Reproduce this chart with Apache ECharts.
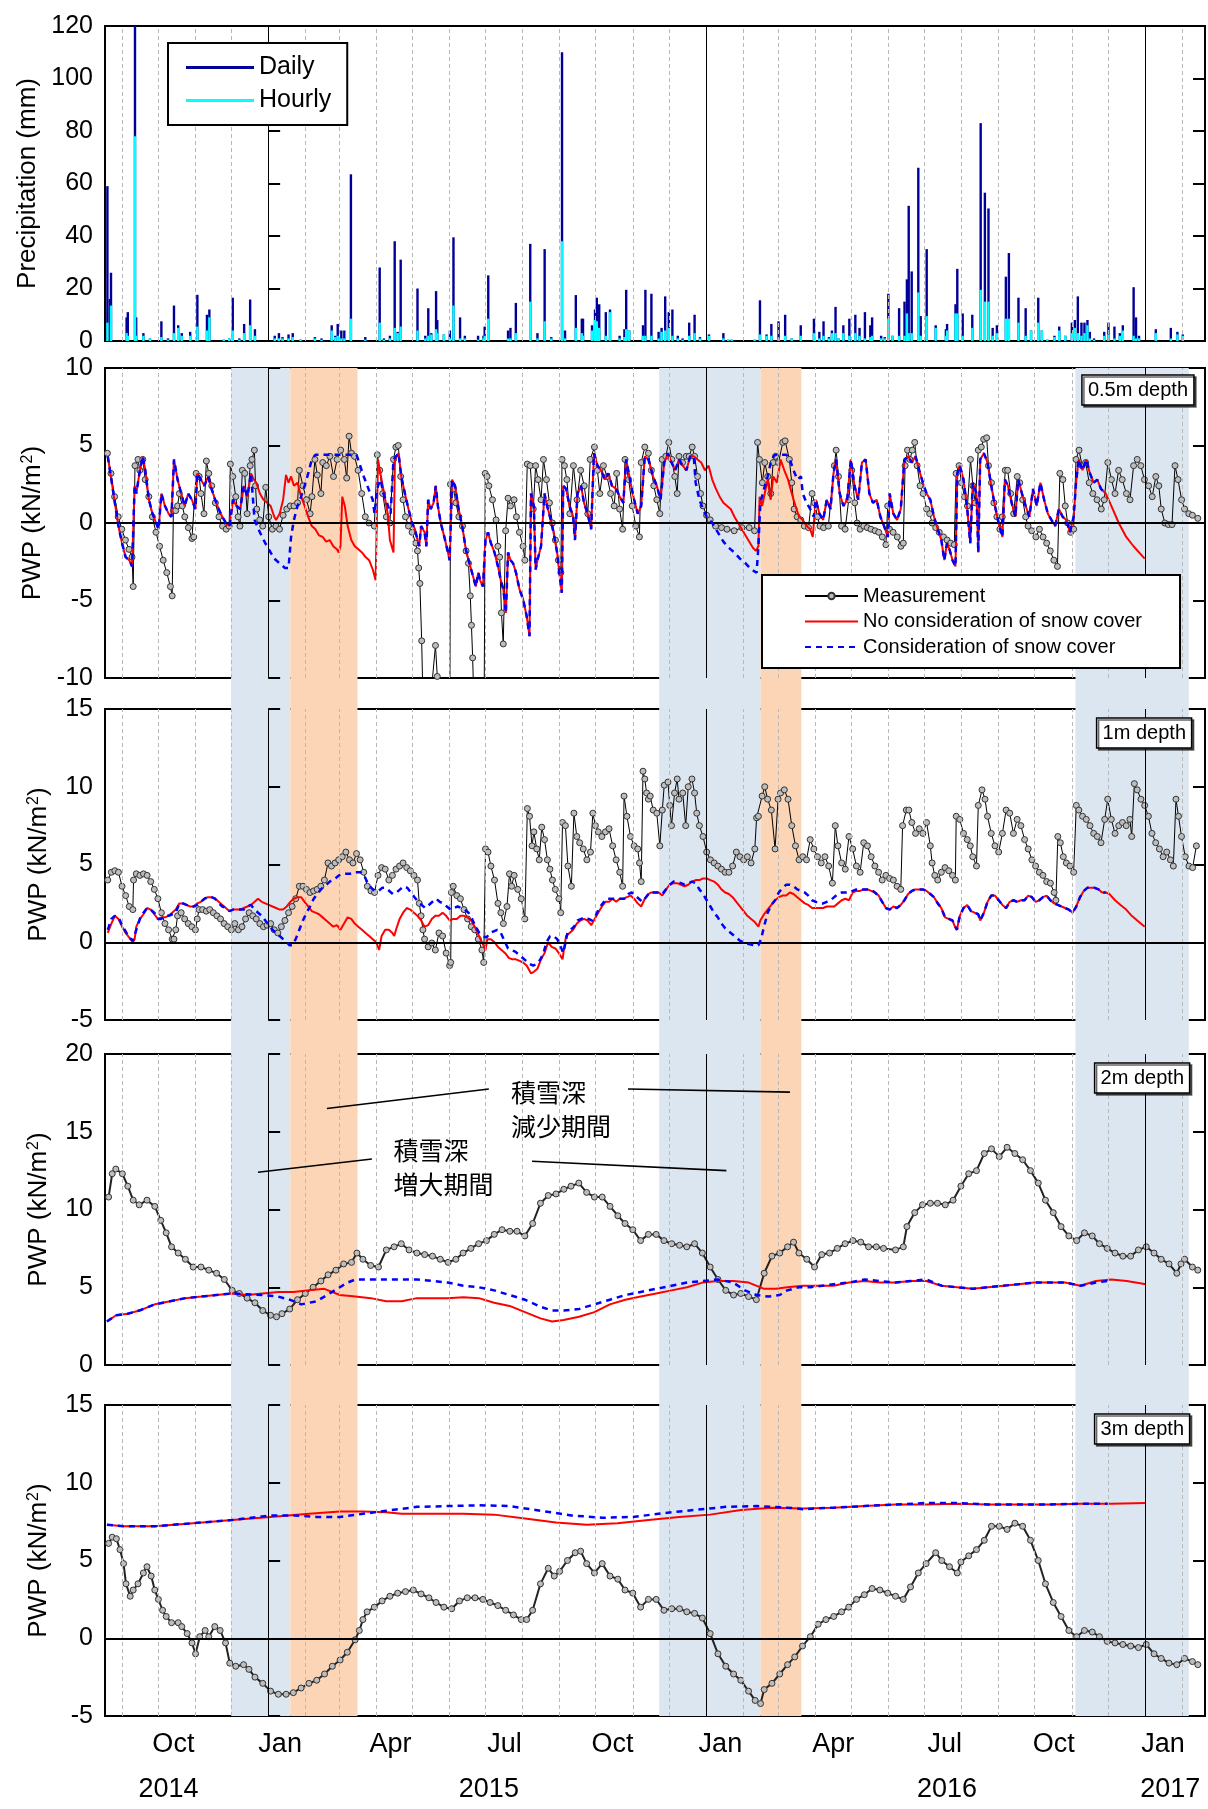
<!DOCTYPE html>
<html><head><meta charset="utf-8">
<script src="https://cdn.jsdelivr.net/npm/echarts@6/dist/echarts.min.js"></script>
<style>html,body{margin:0;padding:0;background:#fff}#c{width:1208px;height:1809px}</style>
</head><body><div id="c"></div>
<script>
// ---------- time axis (days from 2015-01-01) ----------
const monthStarts = [-122,-92,-61,-31,0,31,59,90,120,151,181,212,243,273,304,334,365,396,425,456,486,517,547,578,609,639,670,700,731,762];
const yearStarts = [0,365,731];
const monthLabelDays = [-79,10,102,197,287,377,471,564,655,746];
const monthLabels = ['Oct','Jan','Apr','Jul','Oct','Jan','Apr','Jul','Oct','Jan'];
const yearLabelDays = [-83,184,566,752];
const yearLabels = ['2014','2015','2016','2017'];
const blueBands = [[-31,18.5],[326,410.5],[673,767.5]];
const orangeBands = [[18.5,74.5],[410.5,444.5]];
const depthLabels = ['0.5m depth','1m depth','2m depth','3m depth'];

// ---------- precipitation (day, daily mm, hourly max mm) ----------
const precipDays = [-134,-132,-131,-118,-117,-111,-110,-104,-98.5,-89,-83.5,-78.5,-75,-72,-65,-59,-51,-49,-37,-32.5,-29.5,-24,-20,-15,-11,5.5,9,12,17,20.5,27,39,44.5,53,56,58,61,63.5,69,81,93,96.5,101.5,105.5,108,110.5,124.5,131,133.5,136,140,141,146.5,151.5,154.5,160,164,175,179.5,180.5,183.5,200,202,206.5,218.5,224.5,230.5,236,245,247.5,256.5,261.5,262.5,270,272.5,274,276,281.5,285,293,297,298.5,301,312.5,314.5,319.5,325.5,328,331,334,337,341.5,345.5,351,355.5,360,367.5,379.5,383.5,386.5,405.5,410,415.5,419.5,425.5,431,436.5,444,455,459.5,463,467.5,470,473,475.5,479.5,484.5,489.5,493,497.5,502,503.5,511,514,517,520.5,526,530.5,532.5,534,536.5,542,544,549,556.5,565,566,573,574.5,579,587,594,597.5,600.5,604,607.5,615,617.5,625.5,631.5,636,642,645,649.5,655.5,659.5,664.5,670,672.5,675,678,680.5,683,685,688.5,697,700.5,705.5,710,712.5,721.5,723.5,726,740,752.5,758,762.5];
const precipDaily = [59,16,26,9,11,120,9,3,1,7.5,1,13.5,6,3,3.5,17.6,10,12,0.5,1,16.5,1,6.5,15.8,4.5,2,3,1.5,2.5,3,0.5,1.5,1,6,2,6.5,4,4,63.5,1.5,28,1,2,38,3.5,31,20,2,12.5,3,19,8,2.5,4,39.5,9,2,2,2,5.5,25,4,5,14.5,37,3,35,1.5,110,4,17.5,8.5,8.5,6,12,16.5,14,11,12,2,4.5,19.5,4,6,19.5,18,3.5,5,17,11,12,2,1,7,10,1.5,2.5,3,0.5,0.5,0.5,15.5,2.5,6.5,7.5,10,1,6,8.5,3.5,7.5,1.5,4,13,1,6,8.5,10,5,11,6,9,2,1.5,18,2,12.5,15,23.5,51.5,26.5,66,9.5,35,6,4.5,6.5,14,27.5,10.5,10,83,56.5,50.5,5,6,24.5,33.5,16.5,12.5,4,16.5,4,0.5,2,5.5,2,7,8,17,7,7,8,3.5,1,3.5,7,5.5,3,6,20.5,9,2,4.5,5,3.5,2.5];
const precipHourly = [7,0,13.5,3,2,78,2,2,1,1.5,0.5,3,5,2,2,5.5,4,9,0.5,1,4,0.5,3,6,2,1,1,1,1,1.5,0.5,1,0.5,4,1.5,2,1,1,8.5,0.5,7,0.5,1,5,3,5.5,4,1,2,2.5,4.5,3,2.5,1,13.5,1,1,0.5,1,2,8.5,1,1,3,15,1,7.5,1,38,1,5,3,2,4,8,7.5,5,2,11,1,1.5,4.5,4,2,2,2,1,3.5,4,5,2,1,0.5,2,3,1,2,1,0.5,0.5,0.5,2.5,2,2,1,2,1,2,3,1,2,1,3,3,1,3,2,3,2,1,1.5,2,1,1,8.5,2,2,2,10.5,3,3,18.5,2,9.5,5,2,4,10.5,10.5,2,5,19.5,15,15,2,3,8.5,8.5,7,2,4,7,4,0.5,1.5,4,2,3,5,3,2,3,6,1,0.5,2,2.5,1,2,4,2,1,1,3,1,2.5,2];

// ---------- 0.5 m depth ----------
const meas05 = [[-134,4.5],[-131,3.2],[-128,1.7],[-125,0.4],[-122,-0.4],[-119,-1.1],[-116,-1.7],[-113.5,-2.2],[-112.5,-4.1],[-111,3.7],[-108.5,4.1],[-107,3.4],[-104.5,4.1],[-102.5,2.8],[-99.5,1.7],[-96.5,0.4],[-93.5,-0.6],[-90.5,-1.5],[-87.5,-2.4],[-84.5,-3.2],[-81.5,-4.1],[-80,-4.7],[-79,0.8],[-77,0.8],[-75.5,1.1],[-74,1.9],[-71.5,1.1],[-69.5,0.4],[-66.5,-0.3],[-63.5,-1.0],[-62,-0.9],[-60,3.2],[-57.5,3.0],[-56,1.9],[-53.5,0.6],[-51.5,4.0],[-49.5,3.2],[-47,2.4],[-44,1.3],[-41,0.4],[-38,-0.2],[-35,-0.4],[-32.5,-0.2],[-31.5,3.8],[-29.5,3.0],[-27,1.7],[-25,0.4],[-23.5,-0.2],[-21.5,3.4],[-19.5,3.2],[-17.5,0.6],[-15,3.7],[-13.5,4.1],[-11.5,4.7],[-10.5,2.4],[-9.5,0.9],[-7,0.2],[-4.5,-0.2],[-2,2.3],[0.5,0.4],[3.5,-0.4],[6.5,-0.2],[9.5,-0.4],[12.5,0.5],[15.5,0.9],[18.5,1.1],[21.5,1.1],[24.5,1.3],[26,3.4],[29,2.4],[32,1.5],[35,0.6],[36.5,1.7],[39,4.1],[41,3.1],[44,1.9],[45.5,3.9],[48.5,3.7],[51.5,4.3],[54.5,3.0],[57.5,4.1],[60.5,4.7],[63.5,4.1],[65.5,2.9],[67.5,5.6],[69.5,4.5],[72,4.3],[75,3.4],[78,1.9],[81,0.4],[84,0],[88.5,-0.2],[91,4.4],[93,3.4],[95.5,1.9],[98.5,0.4],[101.5,0],[104.5,4.1],[106.5,4.9],[108.5,5.0],[110.5,3.0],[112.5,1.5],[114.5,0.4],[117,-0.2],[120,-0.6],[123,-1.3],[124.5,-1.8],[125.5,-2.9],[126.5,-3.9],[128,-7.6],[129.5,-13],[133.5,-13],[139.5,-7.9],[141,-9.9],[142.5,-13],[150,-13],[151.5,-12],[152,2.5],[154.5,2.2],[156.5,1.3],[159,0.4],[162,-0.2],[165,-1.8],[167,-2.6],[168.5,-4.7],[169.5,-6.6],[170.5,-8.7],[172,-13],[180,-13],[181,3.2],[182.5,3.0],[184,2.4],[187,1.5],[190,0.2],[191.5,-1.5],[193,-2.2],[194.5,-5.8],[196,-7.8],[198,-0.5],[200,1.6],[202,1.1],[205,1.5],[207,0.4],[209.5,-0.6],[212.5,-1.5],[214,-2.4],[216,3.8],[218.5,3.7],[221,0.9],[223,3.7],[225,2.8],[227.5,1.5],[229.5,4.1],[232,2.8],[234.5,1.3],[237,0],[239.5,-1.1],[242,-2.4],[244,-3.2],[245,4.1],[247,3.7],[249,2.8],[251.5,0.6],[254.5,3.7],[257.5,1.5],[260.5,3.4],[263.5,2.4],[266.5,0.6],[268.5,4.1],[272,4.9],[274.5,3.4],[276.5,1.9],[279.5,3.7],[282.5,3.0],[285.5,1.9],[288.5,1.1],[290.5,3.2],[293,0.9],[295.5,-0.4],[297.5,4.1],[300.5,2.8],[303.5,1.1],[306.5,-0.2],[309.5,-0.9],[311,3.9],[314,4.9],[317,4.5],[319.5,3.4],[321.5,2.4],[324,1.5],[326.5,0.6],[328.5,4.1],[331.5,4.3],[334,5.2],[336.5,4.1],[339,3.0],[341,1.9],[342.5,4.3],[345.5,3.9],[348.5,4.3],[351,4.3],[353.5,4.9],[355.5,4.3],[358,3.0],[360.5,1.9],[362.5,1.1],[365.5,0.5],[368.5,0.2],[373,-0.2],[378,-0.3],[382.5,-0.4],[388.5,-0.5],[395,-0.3],[401,-0.3],[405.5,-0.5],[408,5.2],[409.5,4.1],[412,2.6],[414,3.9],[416.5,3.0],[419,1.9],[421,3.9],[423,4.3],[425.5,3.9],[429,5.2],[431,5.3],[434.5,4.1],[436.5,2.6],[438.5,0.9],[441,0.4],[444,0.2],[447,-0.2],[450.5,-0.3],[453.5,1.9],[455.5,1.3],[458,0.4],[460,-0.2],[463,-0.3],[467,-0.2],[472,3.7],[473.5,4.7],[475.5,3.0],[478,-0.2],[481,-0.4],[484,1.5],[486.5,3.4],[489,1.3],[491,0],[493.5,-0.4],[496.5,-0.2],[499.5,-0.3],[502.5,-0.4],[506,-0.5],[509,-0.6],[512,-0.9],[515,-1.4],[516.5,1.1],[518,-0.4],[521,-0.6],[524.5,-0.9],[527.5,-1.5],[529.5,-1.3],[531,3.7],[533,4.7],[535,4.1],[537,4.7],[539,5.2],[541,3.7],[543.5,2.4],[546,1.9],[549,0.9],[551.5,0.6],[553.5,0],[556.5,-0.3],[559.5,-0.6],[563,-0.9],[566,-1.1],[569,-1.3],[572,-1.4],[573.5,3.2],[576,3.7],[578,2.6],[580.5,1.7],[583,1.1],[585.5,4.1],[587.5,2.4],[589.5,1.3],[592,4.7],[594.5,4.9],[596.5,5.4],[599,5.5],[600.5,3.7],[603,2.6],[605,1.3],[607.5,0.4],[610,-0.4],[612,0.4],[614.5,3.4],[616.5,3.4],[619,1.9],[621.5,0.6],[624.5,3.0],[626.5,2.6],[629,1.5],[631.5,0.4],[633.5,-0.2],[636.5,-0.5],[640,-0.9],[643,-0.4],[646,-0.9],[649,-1.3],[652,-1.8],[655,-2.4],[658,-2.8],[660,3.2],[662.5,2.8],[664.5,1.1],[666.5,0],[669,-0.6],[671.5,-0.4],[673.5,4.1],[676,4.7],[678.5,3.7],[681.5,3.9],[684.5,2.6],[687.5,1.9],[691,1.5],[694.5,0.9],[697,1.5],[700,3.9],[703,2.8],[706,1.9],[709,3.4],[712,2.8],[715.5,1.9],[718.5,1.5],[721.5,3.7],[724.5,4.1],[727.5,3.7],[730.5,2.8],[734,2.4],[737,1.7],[740,3.0],[742.5,2.4],[744.5,0.9],[747.5,0],[750.5,-0.1],[753.5,-0.1],[756,3.7],[758.5,2.8],[761.5,1.5],[764,0.9],[767.5,0.6],[770.5,0.5],[775,0.3]];
const noSnow05 = [[-133.7,4.3],[-130.7,2.8],[-127.8,1.3],[-124.8,-0.2],[-121.8,-1.3],[-118.8,-2.2],[-115.8,-2.4],[-113.4,-2.8],[-111.3,2.4],[-109.9,1.9],[-106.9,3.4],[-104.5,4.3],[-102.4,3.4],[-99.4,1.5],[-96.4,0.6],[-93.4,0],[-91.3,-0.4],[-89,1.9],[-86,1.1],[-83,0.6],[-80.6,0.4],[-78.5,4.1],[-75.5,2.8],[-72.5,1.9],[-69.6,1.1],[-66.6,1.9],[-63.6,1.5],[-60.6,0.9],[-59.1,3.2],[-56.1,2.8],[-53.1,2.4],[-50.1,3.0],[-47.2,2.2],[-44.2,1.5],[-41.2,0.9],[-38.2,0.4],[-35.2,0],[-32.2,-0.2],[-29.3,1.5],[-26.3,1.1],[-23.3,0.9],[-20.3,2.4],[-17.3,1.7],[-14.3,3.2],[-11.9,2.8],[-9.9,2.6],[-6.9,1.9],[-3.9,1.5],[-0.9,1.3],[2.1,1.1],[5.1,0.4],[6.6,0.2],[9.6,0.6],[12.5,1.5],[14.9,3.1],[17,2.6],[19.1,3.0],[21.5,2.4],[24.5,2.6],[27.5,1.7],[30.4,1.1],[33.4,0.4],[36.4,-0.2],[39.4,-0.4],[42.4,-0.8],[45.4,-0.9],[48.4,-1.2],[51.3,-1.1],[54.3,-1.5],[57.3,-1.7],[58.8,-1.9],[60.3,-1.5],[61.8,1.7],[63.9,1.1],[66.3,-0.2],[69.3,-1.1],[72.2,-1.5],[75.2,-1.7],[78.2,-1.9],[81.2,-2.2],[84.2,-2.4],[87.2,-3.0],[89.6,-3.7],[91.6,4.1],[93.1,3.4],[95.5,2.4],[97.6,1.5],[99.7,0.6],[101.5,-1.1],[104.5,-1.9],[105.7,4.1],[108.7,4.5],[111,3.0],[114,1.9],[117,0.9],[120,0],[122.4,-0.4],[124.5,-1.1],[126,-1.5],[127.5,-0.2],[130.4,-0.6],[131.9,-1.5],[133.4,1.5],[135.5,0.9],[137.9,1.3],[139.7,2.4],[141.5,1.1],[143.9,0],[146.9,-0.9],[149.9,-1.9],[151.3,-2.4],[153.4,2.8],[155.8,2.4],[158.8,0.9],[161.8,-0.2],[164.8,-1.7],[167.8,-2.6],[170.7,-3.4],[173.1,-4.1],[175.2,-3.2],[176.7,-3.7],[179.1,-4.1],[181.2,-1.1],[183.3,-0.6],[185.7,-1.3],[188.7,-1.9],[191.6,-2.8],[194,-3.7],[196.1,-4.3],[198.2,-5.8],[200,-1.9],[202.1,-2.4],[204.2,-2.6],[206.6,-3.2],[209.6,-4.3],[212.5,-4.9],[215.5,-6.0],[217.9,-7.3],[219.1,1.9],[221.5,1.1],[223,-3.0],[224.5,-2.4],[227.5,-1.5],[230.4,1.9],[231.9,1.3],[234.9,0.4],[237.9,-0.6],[240.9,-1.9],[243,-3.4],[244.8,-4.5],[246,2.4],[248.4,2.2],[251.3,1.1],[254.3,0.4],[255.8,-1.1],[257.9,1.9],[260.9,2.4],[263.3,1.3],[266.3,0.6],[269.3,-0.4],[271.6,4.5],[274.6,3.7],[277.6,3.4],[280.6,2.8],[283.6,3.2],[286.6,2.4],[290.1,2.2],[293.1,1.7],[296.1,1.3],[298.5,4.1],[302.1,2.6],[305.1,1.5],[308.1,0.6],[311,1.1],[314,4.3],[317,4.1],[320.9,3.0],[324,2.4],[327.1,1.5],[330.2,3.9],[333.3,4.5],[336.3,3.9],[339.4,3.4],[342.5,4.1],[345.6,3.7],[348.7,3.4],[351.8,4.3],[354.8,4.3],[357.9,4.1],[361,3.9],[364.1,3.4],[367.2,3.7],[370.2,2.8],[373.3,2.2],[376.4,1.7],[379.5,1.3],[382.6,1.1],[385.6,0.9],[388.7,0.4],[391.8,0],[394.9,-0.4],[398,-0.8],[401,-1.2],[404.1,-1.6],[406.6,-1.8],[408.7,-1.5],[409.7,1.7],[411.8,1.1],[414,1.9],[416.4,2.8],[418.9,1.5],[421.1,3.0],[424.1,2.6],[427.2,4.1],[430.3,3.4],[433.4,2.8],[436.5,1.9],[439.6,1.1],[442.6,0.4],[445.7,0.2],[448.8,-0.2],[451.9,-0.4],[454,-0.9],[456.5,1.5],[459.6,0.6],[462.7,0.2],[465.7,1.5],[468.8,0.9],[471.3,3.2],[473.4,4.1],[476.5,1.9],[479.6,1.1],[482.7,1.5],[485.8,4.1],[488.8,2.4],[491.9,1.5],[495,3.9],[498.1,4.1],[501.2,1.9],[504.2,1.3],[507.3,1.5],[510.4,0.4],[513.5,-0.2],[516.6,-0.9],[518.1,1.9],[521.2,0.6],[524.3,0.2],[527.4,0.9],[530.4,4.1],[533.5,4.3],[536.6,3.9],[539.7,4.3],[542.8,3.4],[545.8,2.6],[548.9,1.9],[552,1.5],[555.1,0.4],[558.2,-0.4],[561.2,-1.1],[563.7,-2.4],[565.9,-1.3],[568,-1.7],[570.5,-2.4],[573,-2.8],[574.5,3.2],[576.6,3.7],[579.7,2.8],[582.8,0.9],[585.3,-1.3],[587.4,2.6],[590.5,1.9],[592,-1.9],[593.6,4.1],[596.7,4.5],[599.7,3.9],[602.8,2.4],[605.9,1.1],[609,0],[612.1,-0.9],[614.2,2.8],[616.7,2.4],[619.8,1.3],[622.9,0.4],[625.3,2.8],[628.4,1.9],[631.5,1.1],[634.6,0.4],[637.6,2.2],[640.7,1.1],[643.8,2.6],[646.9,1.5],[650,0.6],[653,0.2],[656.1,-0.2],[659.2,0.9],[662.3,0.4],[665.4,0.2],[668.4,-0.6],[671.5,0.4],[673.7,2.8],[675.8,4.1],[678.9,3.4],[682,4.1],[685.1,3.2],[688.2,2.6],[691.2,2.8],[694.3,2.2],[698.3,1.9],[702.9,1.1],[709.1,0],[715.3,-0.9],[721.4,-1.5],[730.7,-2.3]];
const snow05 = [[-133.7,4.3],[-130.7,2.8],[-127.8,1.3],[-124.8,-0.2],[-121.8,-1.3],[-118.8,-2.2],[-115.8,-2.4],[-113.4,-2.8],[-111.3,2.4],[-109.9,1.9],[-106.9,3.4],[-104.5,4.3],[-102.4,3.4],[-99.4,1.5],[-96.4,0.6],[-93.4,0],[-91.3,-0.4],[-89,1.9],[-86,1.1],[-83,0.6],[-80.6,0.4],[-78.5,4.1],[-75.5,2.8],[-72.5,1.9],[-69.6,1.1],[-66.6,1.9],[-63.6,1.5],[-60.6,0.9],[-59.1,3.2],[-56.1,2.8],[-53.1,2.4],[-50.1,3.0],[-47.2,2.2],[-44.2,1.5],[-41.2,0.9],[-38.2,0.4],[-35.2,0],[-32.2,-0.2],[-29.3,1.5],[-26.3,1.1],[-23.3,0.9],[-20.3,2.4],[-17.3,1.7],[-14.3,3.2],[-11.3,0.2],[-6.9,-0.6],[-2.4,-1.3],[0.6,-1.7],[5.1,-2.3],[9.6,-2.6],[14,-2.9],[17,-2.9],[19.1,-0.9],[21.5,0.2],[24.5,1.1],[27.5,1.7],[30.4,2.4],[33.4,3.2],[36.4,4.1],[39.4,4.4],[73.7,4.4],[76.7,3.7],[79.7,3.0],[82.7,2.4],[85.1,1.9],[87.2,1.5],[88.7,0.6],[90.1,1.7],[91.6,2.4],[93.7,2.8],[96.1,1.9],[99.1,1.3],[102.1,0.6],[104.5,4.1],[105.7,4.1],[108.7,4.5],[111,3.0],[114,1.9],[117,0.9],[120,0],[122.4,-0.4],[124.5,-1.1],[126,-1.5],[127.5,-0.2],[130.4,-0.6],[131.9,-1.5],[133.4,1.5],[135.5,0.9],[137.9,1.3],[139.7,2.4],[141.5,1.1],[143.9,0],[146.9,-0.9],[149.9,-1.9],[151.3,-2.4],[153.4,2.8],[155.8,2.4],[158.8,0.9],[161.8,-0.2],[164.8,-1.7],[167.8,-2.6],[170.7,-3.4],[173.1,-4.1],[175.2,-3.2],[176.7,-3.7],[179.1,-4.1],[181.2,-1.1],[183.3,-0.6],[185.7,-1.3],[188.7,-1.9],[191.6,-2.8],[194,-3.7],[196.1,-4.3],[198.2,-5.8],[200,-1.9],[202.1,-2.4],[204.2,-2.6],[206.6,-3.2],[209.6,-4.3],[212.5,-4.9],[215.5,-6.0],[217.9,-7.3],[219.1,1.9],[221.5,1.1],[223,-3.0],[224.5,-2.4],[227.5,-1.5],[230.4,1.9],[231.9,1.3],[234.9,0.4],[237.9,-0.6],[240.9,-1.9],[243,-3.4],[244.8,-4.5],[246,2.4],[248.4,2.2],[251.3,1.1],[254.3,0.4],[255.8,-1.1],[257.9,1.9],[260.9,2.4],[263.3,1.3],[266.3,0.6],[269.3,-0.4],[271.6,4.5],[274.6,3.7],[277.6,3.4],[280.6,2.8],[283.6,3.2],[286.6,2.4],[290.1,2.2],[293.1,1.7],[296.1,1.3],[298.5,4.1],[302.1,2.6],[305.1,1.5],[308.1,0.6],[311,1.1],[314,4.3],[317,4.1],[320.9,3.0],[324,2.4],[327.1,1.5],[330.2,3.9],[333.3,4.5],[336.3,3.9],[339.4,3.4],[342.5,4.1],[345.6,3.7],[348.7,3.4],[351.8,4.3],[354.8,4.3],[356.4,2.6],[359.5,1.5],[362.5,0.9],[365.6,0.4],[370.2,0],[374.9,-0.6],[379.5,-1.2],[384.1,-1.6],[388.7,-1.9],[393.3,-2.3],[398,-2.6],[402.6,-3.0],[407.2,-3.2],[408.7,-1.5],[410.3,1.3],[413.4,2.2],[416.4,3.0],[419.5,4.1],[422.6,4.4],[431.9,4.4],[434.9,4.1],[438,3.4],[441.1,2.8],[444.2,3.0],[445.7,1.9],[448.8,1.3],[451.9,0.9],[454.9,0.4],[456.5,1.5],[459.6,0.6],[462.7,0.2],[465.7,1.5],[468.8,0.9],[471.3,3.2],[473.4,4.1],[476.5,1.9],[479.6,1.1],[482.7,1.5],[485.8,4.1],[488.8,2.4],[491.9,1.5],[495,3.9],[498.1,4.1],[501.2,1.9],[504.2,1.3],[507.3,1.5],[510.4,0.4],[513.5,-0.2],[516.6,-0.9],[518.1,1.9],[521.2,0.6],[524.3,0.2],[527.4,0.9],[530.4,4.1],[533.5,4.3],[536.6,3.9],[539.7,4.3],[542.8,3.4],[545.8,2.6],[548.9,1.9],[552,1.5],[555.1,0.4],[558.2,-0.4],[561.2,-1.1],[563.7,-2.4],[565.9,-1.3],[568,-1.7],[570.5,-2.4],[573,-2.8],[574.5,3.2],[576.6,3.7],[579.7,2.8],[582.8,0.9],[585.3,-1.3],[587.4,2.6],[590.5,1.9],[592,-1.9],[593.6,4.1],[596.7,4.5],[599.7,3.9],[602.8,2.4],[605.9,1.1],[609,0],[612.1,-0.9],[614.2,2.8],[616.7,2.4],[619.8,1.3],[622.9,0.4],[625.3,2.8],[628.4,1.9],[631.5,1.1],[634.6,0.4],[637.6,2.2],[640.7,1.1],[643.8,2.6],[646.9,1.5],[650,0.6],[653,0.2],[656.1,-0.2],[659.2,0.9],[662.3,0.4],[665.4,0.2],[668.4,-0.6],[671.5,0.4],[673.7,2.8],[675.8,4.1],[678.9,3.4],[682,4.1],[685.1,3.2],[688.2,2.6],[691.2,2.8],[694.3,2.2],[698.3,1.9]];

// ---------- 1 m depth ----------
const meas1 = [[-133.7,4.0],[-130.7,4.5],[-127.8,4.6],[-124.8,4.5],[-121.8,3.6],[-118.8,3.0],[-115.8,2.3],[-112.8,2.1],[-112.2,4.0],[-109.9,4.4],[-106.9,4.3],[-103.9,4.4],[-100.9,4.3],[-97.9,3.9],[-94.9,3.4],[-91.9,2.8],[-89,1.9],[-86,1.2],[-83,0.8],[-80,0.2],[-78.5,0.2],[-77,0.8],[-75.5,1.7],[-72.5,1.9],[-69.6,1.5],[-66.6,1.2],[-63.6,1.0],[-60.6,0.8],[-59.1,1.5],[-57.6,2.1],[-54.6,2.1],[-51.6,2.0],[-48.7,2.1],[-45.7,1.9],[-42.7,1.7],[-39.7,1.5],[-36.7,1.2],[-33.7,1.0],[-30.7,0.8],[-27.8,1.2],[-24.8,0.8],[-21.8,1.0],[-18.8,1.5],[-15.8,1.9],[-12.8,1.7],[-9.9,1.5],[-6.9,1.2],[-3.9,1.0],[-0.9,1.1],[2.1,1.2],[5.1,0.8],[8.1,0.6],[11,1.0],[14,1.4],[17,1.9],[20,2.3],[23,2.8],[26,3.6],[29,3.6],[31.9,3.4],[34.9,3.2],[37.9,3.3],[40.9,3.4],[43.9,3.6],[46.9,4.0],[49.9,5.1],[52.8,4.9],[55.8,5.1],[58.8,5.3],[61.8,5.5],[64.8,5.8],[67.8,5.3],[70.7,5.1],[73.7,5.7],[76.7,5.3],[79.7,4.5],[82.7,3.6],[85.7,3.3],[88.7,3.2],[91.6,4.3],[94.6,4.8],[97.6,4.7],[100.6,4.0],[103.6,4.3],[106.6,4.7],[109.6,4.9],[112.5,5.1],[115.5,4.8],[118.5,4.6],[121.5,4.3],[124.5,4.0],[126,2.5],[127.5,1.7],[129,0.8],[130.4,0.2],[133.4,-0.3],[136.4,-0.05],[139.4,-0.5],[142.4,0.6],[145.4,0.4],[148.4,-0.7],[151.3,-1.5],[152.2,-1.3],[152.8,3.2],[154.3,3.6],[157.3,3.0],[160.3,2.8],[163.3,2.1],[166.3,1.5],[169.3,1.0],[172.2,0.8],[175.2,0.2],[178.2,-0.5],[179.7,-1.3],[181.2,6.0],[183.3,5.8],[185.7,4.9],[188.7,4.0],[191.6,2.5],[194,1.9],[196.1,1.2],[199.1,2.3],[201.2,4.4],[203,3.6],[205.1,4.3],[208.1,3.4],[211,2.8],[214,1.5],[216.1,8.6],[217.9,8.1],[220,6.2],[221.5,7.1],[223.9,6.0],[226,5.3],[228.1,7.4],[230.4,6.6],[232.8,5.3],[234.9,4.7],[237,4.0],[239.4,3.4],[242.4,2.8],[243.9,1.9],[245.4,7.7],[247.8,7.5],[249.9,4.9],[252.8,3.6],[254.9,8.3],[257.3,6.8],[259.7,6.4],[262.7,6.0],[265.7,5.3],[268.7,5.8],[270.7,8.3],[272.8,7.5],[275.2,7.1],[278.2,6.8],[281.2,7.1],[284.2,7.3],[287.2,6.2],[290.1,5.3],[293.1,4.5],[295.5,3.6],[296.7,9.4],[299.1,8.1],[302.1,6.8],[305.1,6.2],[308.1,6.0],[309.6,5.1],[311,3.9],[312.5,11.0],[314,10.5],[315.5,9.6],[317,9.2],[318.5,9.4],[321,8.5],[324,8.3],[326.5,6.2],[328.6,8.5],[330.2,10.1],[333.3,10.3],[334.8,8.8],[336.3,7.5],[338.8,9.6],[341,10.5],[342.5,9.2],[345.6,9.6],[348.1,7.5],[350.2,10.0],[353.3,10.5],[355.5,9.6],[357.3,8.3],[359.5,7.5],[362.5,6.8],[365.6,5.8],[368.7,5.3],[371.8,5.1],[374.9,4.9],[377.9,4.7],[381,4.5],[384.1,4.5],[387.2,4.9],[390.3,5.8],[393.3,5.5],[396.4,5.3],[399.5,5.5],[402.6,5.1],[405.7,6.0],[407.2,8.0],[408.7,8.1],[411.8,9.4],[414,10.0],[416.4,9.2],[419.5,8.5],[422.6,6.0],[425.1,9.2],[427.2,9.6],[430.3,9.8],[433.4,9.2],[436.5,7.5],[439.6,6.2],[442.6,5.3],[445.7,5.5],[448.8,5.3],[451.9,6.6],[454.9,6.0],[458,5.5],[461.1,5.1],[464.2,5.5],[467.3,4.9],[470.4,3.8],[472.8,7.5],[475,6.2],[478.1,5.1],[481.1,4.7],[484.2,6.8],[487.3,6.0],[490.4,4.9],[493.5,4.5],[496.5,6.4],[499.6,6.2],[502.7,5.5],[505.8,4.9],[508.9,4.5],[511.9,4.0],[515,4.3],[518.1,4.1],[521.2,4.0],[524.3,3.6],[527.4,3.4],[528.9,7.5],[532,8.5],[534.1,8.5],[536.6,7.7],[539.7,7.0],[542.8,7.3],[545.8,7.0],[548.9,7.7],[552,6.2],[553.5,5.1],[555.7,4.3],[558.2,4.0],[561.2,4.5],[564.3,4.8],[567.4,4.6],[570.5,4.3],[572.9,4.0],[573.6,8.1],[576.6,7.9],[579.7,7.0],[582.8,6.6],[585.3,6.2],[587.4,5.5],[590.5,4.9],[592,8.8],[595.1,9.8],[597.6,9.2],[599.7,8.1],[602.8,7.0],[605.9,6.2],[609,5.8],[612.1,7.0],[615.2,8.5],[618.2,8.3],[621.3,7.0],[624.4,7.9],[627.5,7.5],[630.6,6.6],[633.6,6.0],[636.7,5.3],[639.8,4.9],[642.9,4.5],[645.9,4.3],[649,3.9],[652.1,3.8],[655.2,3.2],[656.7,2.7],[658.3,6.8],[660.4,6.4],[662.9,5.5],[665.4,5.1],[668.4,4.9],[671.5,4.5],[673.7,8.8],[675.8,8.5],[678.9,8.1],[682,7.9],[685.1,7.5],[688.2,7.0],[691.2,6.8],[694.3,6.4],[697.4,7.9],[699.9,9.2],[702.9,7.9],[706,7.0],[709.1,7.5],[712.2,7.7],[715.3,7.5],[718.4,7.9],[719.9,6.8],[722.1,10.2],[724.5,9.8],[727.6,9.2],[730.7,8.8],[733.8,8.1],[736.8,7.0],[739.9,6.4],[743,6.0],[746.1,5.5],[749.1,5.8],[752.2,5.3],[754.6,4.9],[756.8,9.2],[758.9,8.1],[761.4,6.8],[764.5,5.5],[767.6,4.9],[770.7,4.8],[773.8,6.2]];
const noSnow1 = [[-133.7,0.6],[-130.7,1.2],[-127.8,1.7],[-124.8,1.5],[-121.8,1.0],[-118.8,0.6],[-115.8,0.3],[-112.8,0],[-111.3,0.2],[-109.9,1.0],[-106.9,1.5],[-103.9,1.8],[-100.9,2.2],[-97.9,2.1],[-94.9,1.8],[-91.9,1.5],[-89,1.6],[-86,1.6],[-83,1.7],[-80,1.9],[-77,2.1],[-74,2.5],[-71,2.5],[-68.1,2.4],[-65.1,2.3],[-62.1,2.3],[-59.1,2.5],[-56.1,2.6],[-53.1,2.8],[-50.1,2.9],[-47.2,2.9],[-44.2,2.8],[-41.2,2.6],[-38.2,2.4],[-35.2,2.2],[-32.2,2.0],[-29.3,2.1],[-26.3,2.1],[-23.3,2.1],[-20.3,2.2],[-17.3,2.3],[-14.3,2.4],[-11.3,2.6],[-8.4,2.8],[-5.4,2.6],[-2.4,2.5],[0.6,2.4],[3.6,2.3],[6.6,2.2],[9.6,2.1],[12.5,2.1],[15.5,2.3],[18.5,2.6],[21.5,2.8],[24.5,2.9],[27.5,2.9],[30.4,2.6],[33.4,2.3],[36.4,2.0],[39.4,1.9],[42.4,1.8],[45.4,1.6],[48.4,1.4],[51.3,1.2],[54.3,1.0],[57.3,1.1],[60.3,0.8],[63.3,1.2],[66.3,1.6],[69.3,1.5],[72.2,1.2],[75.2,1.0],[78.2,0.8],[81.2,0.6],[84.2,0.4],[87.2,0.2],[90.1,0],[92.5,-0.5],[94.6,0.4],[97.6,0.8],[100.6,0.8],[103.6,0.6],[105.1,0.4],[106.6,0.8],[109.6,1.5],[112.5,1.9],[115.5,2.2],[118.5,2.1],[121.5,1.9],[124.5,1.7],[127.5,1.4],[130.4,1.0],[133.4,1.1],[136.4,1.5],[139.4,1.7],[142.4,1.7],[145.4,1.9],[148.4,1.7],[151.3,1.4],[154.3,1.5],[157.3,1.5],[160.3,1.7],[163.3,1.7],[166.3,1.6],[169.3,1.4],[172.2,1.0],[175.2,0.5],[178.2,0],[181.2,-0.5],[182.7,0.2],[185.7,0.2],[188.7,0],[191.6,-0.3],[194.6,-0.5],[197.6,-0.7],[200.6,-1.0],[203.6,-1.1],[206.6,-1.1],[209.6,-1.2],[212.5,-1.3],[215.5,-1.5],[219.1,-2.0],[221.5,-1.9],[224.5,-1.7],[227.5,-1.1],[230.4,-0.7],[233.4,0],[236.4,-0.3],[239.4,-0.4],[242.4,-0.7],[245.4,-1.1],[246.9,-0.3],[248.4,0.4],[251.3,0.6],[254.3,0.8],[257.3,1.2],[260.3,1.4],[263.3,1.5],[266.3,1.4],[269.3,1.1],[272.2,1.5],[275.2,1.9],[278.2,2.3],[281.2,2.6],[284.2,2.6],[287.2,2.8],[290.1,2.6],[293.1,2.8],[296.1,2.8],[299.1,2.9],[302.1,3.0],[305.1,2.8],[308.1,2.5],[311,2.3],[314,2.8],[317,3.1],[319.4,3.2],[322.5,3.2],[325.6,3.2],[328.6,3.0],[331.7,3.4],[334.8,3.7],[337.9,3.8],[341,3.8],[344.1,3.7],[347.1,3.6],[350.2,3.7],[353.3,3.9],[356.4,4.0],[359.5,4.0],[362.5,4.1],[365.6,4.1],[368.7,4.0],[371.8,3.9],[374.9,3.7],[377.9,3.4],[381,3.2],[384.1,3.1],[387.2,2.9],[390.3,2.6],[393.3,2.3],[396.4,2.0],[399.5,1.7],[402.6,1.5],[405.7,1.3],[408.7,1.0],[410.3,1.4],[413.4,1.8],[416.4,2.1],[419.5,2.4],[422.6,2.7],[425.7,2.9],[428.8,3.0],[431.9,3.0],[434.9,3.2],[438,3.1],[441.1,2.9],[444.2,2.7],[447.3,2.5],[450.3,2.4],[453.4,2.2],[456.5,2.2],[459.6,2.2],[462.7,2.2],[465.7,2.3],[468.8,2.3],[471.9,2.3],[475,2.5],[478.1,2.7],[481.1,2.8],[484.2,2.7],[487.3,3.2],[490.4,3.3],[493.5,3.3],[496.5,3.4],[499.6,3.4],[502.7,3.3],[505.8,3.2],[508.9,3.0],[511.9,2.6],[515,2.2],[518.1,2.1],[521.2,2.3],[524.3,2.2],[527.4,2.4],[530.4,2.7],[533.5,3.1],[536.6,3.3],[539.7,3.4],[542.8,3.4],[545.8,3.4],[548.9,3.3],[552,3.1],[555.1,2.9],[558.2,2.5],[561.2,2.2],[564.3,1.6],[567.4,1.5],[570.5,1.4],[572,1.1],[574.2,0.8],[576.6,1.7],[579.7,2.2],[582.8,2.4],[585.9,2.0],[588.9,1.9],[592,1.8],[593.6,1.4],[596.7,1.9],[599.7,2.6],[602.8,3.0],[605.9,3.0],[609,2.7],[612.1,2.4],[615.2,2.2],[618.2,2.6],[621.3,2.7],[624.4,2.6],[627.5,2.7],[630.6,2.7],[633.6,3.0],[636.7,2.9],[639.8,2.6],[642.9,2.7],[645.9,2.9],[649,3.0],[652.1,2.7],[655.2,2.5],[658.3,2.4],[661.4,2.3],[664.4,2.2],[667.5,2.1],[670.6,1.9],[673.7,2.3],[676.8,2.9],[679.9,3.3],[682.9,3.5],[686,3.5],[689.1,3.5],[692.2,3.4],[695.2,3.2],[698.3,3.2],[701.4,3.1],[706,2.7],[710.6,2.4],[715.3,2.1],[719.9,1.7],[724.5,1.4],[730.7,1.0]];
const snow1 = [[-133.7,0.8],[-130.7,1.5],[-127.8,1.7],[-124.8,1.6],[-121.8,1.1],[-118.8,0.7],[-115.8,0.3],[-112.8,0.1],[-109.9,0.8],[-106.9,1.5],[-103.9,1.9],[-100.9,2.2],[-97.9,2.1],[-94.9,1.9],[-91.9,1.5],[-89,1.5],[-86,1.7],[-83,1.7],[-80,1.8],[-77,1.9],[-74,2.5],[-71,2.5],[-68.1,2.4],[-65.1,2.3],[-62.1,2.3],[-59.1,2.4],[-56.1,2.6],[-53.1,2.8],[-50.1,2.9],[-47.2,2.9],[-44.2,2.8],[-41.2,2.5],[-38.2,2.3],[-35.2,2.2],[-32.2,2.0],[-29.3,2.1],[-26.3,2.1],[-23.3,2.1],[-20.3,2.1],[-17.3,2.3],[-14.3,2.4],[-11.3,2.1],[-8.4,1.9],[-5.4,1.7],[-2.4,1.4],[0.6,1.1],[3.6,0.8],[6.6,0.6],[9.6,0.4],[12.5,0.2],[15.5,0],[17.9,-0.2],[20,-0.2],[23,0.2],[26,0.8],[29,1.4],[32,1.9],[35,2.3],[38,2.8],[41,3.1],[44,3.4],[47,3.6],[50,3.8],[53,4.0],[56,4.1],[59,4.3],[62,4.4],[65,4.4],[68,4.4],[71,4.5],[74,4.5],[77,4.5],[80,4.3],[83,3.8],[86,3.5],[89,3.3],[92,3.3],[95,3.5],[98,3.5],[101,3.3],[104,3.1],[107,3.2],[110,3.4],[113,3.6],[116,3.5],[119,3.2],[122,2.9],[125,2.6],[128,2.4],[131,2.2],[134,2.4],[137,2.6],[140,2.8],[143,2.6],[146,2.5],[149,2.3],[152,2.1],[155,2.2],[158,2.3],[161,2.2],[164,2.1],[167,1.9],[170,1.5],[173,1.0],[176,0.6],[179,0.4],[182,0.3],[185,0.6],[188,0.7],[191,0.8],[194,0.6],[197,0.1],[200,-0.4],[203,-0.5],[206,-0.6],[209,-0.8],[212,-1.0],[215,-1.2],[218,-1.4],[221,-1.5],[224,-1.4],[227,-1.1],[229.5,-0.7],[232,0],[235,0.4],[238,0.4],[241,0.2],[244,-0.3],[246,-0.7],[248,0],[249.5,0.6],[252,0.8],[255,1.0],[258,1.4],[261,1.5],[264,1.6],[267,1.5],[270,1.4],[273,1.7],[276,2.2],[279,2.5],[282,2.8],[285,2.8],[288,2.8],[291,2.8],[294,2.8],[297,2.8],[300,3.1],[303,3.2],[306,3.0],[309,2.8],[312,2.6],[315,2.9],[318,3.2],[322.5,3.2],[325.6,3.2],[328.6,3.1],[331.7,3.4],[334.8,3.7],[337.9,3.9],[341,3.9],[344.1,3.8],[347.1,3.7],[350.2,3.8],[353.3,3.9],[356.4,3.8],[359.5,3.4],[362.5,3.1],[365.6,2.7],[368.7,2.3],[371.8,1.9],[374.9,1.6],[377.9,1.2],[381,0.9],[384.1,0.7],[387.2,0.5],[390.3,0.3],[393.3,0.1],[396.4,0],[399.5,-0.1],[402.6,-0.15],[405.7,-0.2],[408.7,-0.2],[410.9,0.2],[413.4,1.0],[416.4,1.9],[419.5,2.4],[422.6,2.7],[425.7,3.2],[428.8,3.5],[431.9,3.7],[434.9,3.7],[438,3.6],[441.1,3.4],[444.2,3.3],[447.3,3.2],[450.3,3.0],[453.4,2.7],[456.5,2.6],[459.6,2.5],[462.7,2.5],[465.7,2.6],[468.8,2.7],[471.9,2.9],[475,3.1],[478.1,3.2],[481.1,3.2],[484.2,3.2],[487.3,3.3],[490.4,3.4],[493.5,3.4],[496.5,3.4],[499.6,3.4],[502.7,3.4],[505.8,3.2],[508.9,3.0],[511.9,2.6],[515,2.2],[518.1,2.1],[521.2,2.3],[524.3,2.2],[527.4,2.4],[530.4,2.7],[533.5,3.1],[536.6,3.3],[539.7,3.4],[542.8,3.4],[545.8,3.4],[548.9,3.3],[552,3.1],[555.1,2.9],[558.2,2.5],[561.2,2.2],[564.3,1.6],[567.4,1.5],[570.5,1.4],[572,1.1],[574.2,0.8],[576.6,1.7],[579.7,2.2],[582.8,2.4],[585.9,2.0],[588.9,1.9],[592,1.8],[593.6,1.4],[596.7,1.9],[599.7,2.6],[602.8,3.0],[605.9,3.0],[609,2.7],[612.1,2.4],[615.2,2.2],[618.2,2.6],[621.3,2.7],[624.4,2.6],[627.5,2.7],[630.6,2.7],[633.6,3.0],[636.7,2.9],[639.8,2.6],[642.9,2.7],[645.9,2.9],[649,3.0],[652.1,2.7],[655.2,2.5],[658.3,2.4],[661.4,2.3],[664.4,2.2],[667.5,2.1],[670.6,1.9],[673.7,2.3],[676.8,2.9],[679.9,3.3],[682.9,3.5],[686,3.5],[689.1,3.5],[692.2,3.4],[695.2,3.2],[698.3,3.2]];

// ---------- 2 m depth ----------
const meas2 = [[-133,10.8],[-130,12.3],[-127,12.6],[-121.5,12.3],[-117,11.5],[-112.5,10.6],[-107.5,10.3],[-101,10.6],[-94.5,10.2],[-89.5,9.3],[-85,8.5],[-80.5,7.6],[-75,7.2],[-69,6.8],[-62.5,6.3],[-56,6.3],[-49.5,6.1],[-43,5.9],[-36.5,5.5],[-30,4.8],[-24,4.6],[-17.5,4.3],[-11,4.0],[-4.5,3.5],[2,3.2],[7,3.1],[11.5,3.3],[18,3.6],[24.5,4.2],[31,4.6],[37.5,5.0],[44,5.4],[50,5.8],[56.5,6.1],[63,6.5],[69.5,6.6],[74,7.2],[79,6.8],[85.5,6.4],[92,6.3],[98.5,7.4],[105,7.6],[111,7.8],[117.5,7.4],[124,7.2],[130.5,7.1],[137,7.0],[143.5,6.8],[150,6.6],[156.5,6.8],[162.5,7.2],[169,7.5],[175.5,7.8],[182,8.0],[188.5,8.4],[195,8.7],[201.5,8.6],[207.5,8.6],[214,8.3],[220.5,9.1],[227,10.4],[233.5,10.9],[240,11.0],[246.5,11.3],[252.5,11.5],[259,11.7],[265.5,11.1],[272,10.8],[278.5,10.8],[285,10.2],[291.5,9.6],[297.5,9.1],[304,8.7],[310.5,8.0],[317,8.4],[323.5,8.4],[330,8.0],[336.5,7.8],[343,7.7],[349,7.6],[355.5,7.8],[362,7.2],[368.5,6.3],[375,5.5],[381.5,4.8],[388,4.5],[394,4.6],[400.5,4.4],[407,4.2],[413.5,5.9],[420,7.0],[426.5,7.2],[433,7.6],[438,7.9],[442.5,7.2],[449,6.8],[455.5,6.3],[461.5,7.1],[468,7.2],[474.5,7.5],[481,7.8],[487.5,8.0],[494,7.9],[500.5,7.6],[507,7.6],[513,7.5],[523,7.4],[529.5,7.6],[532.5,8.9],[539,9.8],[545.5,10.3],[552,10.4],[558,10.4],[564.5,10.3],[571,10.6],[577.5,11.5],[584,12.3],[590.5,12.5],[597,13.6],[603,13.9],[609.5,13.4],[616,14.0],[622.5,13.6],[629,13.2],[635.5,12.5],[642,11.7],[648,10.6],[654.5,9.8],[661,8.9],[667.5,8.3],[674,8.0],[680.5,8.5],[687,8.3],[693,7.8],[699.5,7.5],[706,7.2],[712.5,7.0],[719,7.0],[725.5,7.4],[732,7.6],[738.5,7.2],[744.5,6.8],[751,6.5],[757.5,5.9],[761,6.5],[764,6.8],[770.5,6.3],[775,6.1]];
const noSnow2 = [[-134.4,2.8],[-126.7,3.2],[-117,3.3],[-107.4,3.5],[-94.5,3.9],[-81.7,4.1],[-68.8,4.3],[-55.9,4.4],[-43.1,4.5],[-30.2,4.6],[-17.4,4.5],[-4.5,4.6],[8.4,4.7],[21.2,4.7],[34.1,4.8],[46.9,4.9],[59.8,4.5],[72.7,4.4],[85.5,4.3],[98.4,4.1],[111.3,4.1],[124.1,4.3],[137,4.3],[149.8,4.3],[162.7,4.35],[175.6,4.3],[188.4,4.0],[201.3,3.8],[214.1,3.4],[227,3.0],[236.7,2.8],[246.3,2.9],[259.2,3.1],[272,3.4],[284.9,3.9],[297.7,4.2],[310.6,4.4],[323.5,4.6],[336.3,4.8],[349.2,5.0],[362.1,5.3],[374.9,5.4],[387.8,5.4],[400.6,5.3],[413.5,4.9],[423.2,4.9],[432.8,5.0],[445.7,5.1],[458.5,5.1],[471.4,5.1],[484.2,5.3],[497.1,5.4],[510,5.3],[522.8,5.3],[535.7,5.4],[548.6,5.4],[561.4,5.1],[574.3,5.0],[587.1,4.9],[600,5.0],[612.9,5.1],[625.7,5.2],[638.6,5.3],[651.4,5.3],[664.3,5.3],[677.2,5.1],[690,5.4],[702.9,5.5],[715.8,5.4],[731.8,5.2]];
const snow2 = [[-134.4,2.8],[-126.7,3.2],[-117,3.3],[-107.4,3.5],[-94.5,3.9],[-81.7,4.1],[-68.8,4.3],[-55.9,4.4],[-43.1,4.5],[-30.2,4.6],[-17.4,4.55],[-4.5,4.5],[8.4,4.4],[18,4.2],[27.7,3.9],[34.1,4.0],[40.5,4.1],[46.9,4.4],[53.4,4.7],[59.8,5.0],[66.2,5.3],[72.7,5.5],[85.5,5.5],[98.4,5.5],[111.3,5.5],[124.1,5.5],[137,5.4],[149.8,5.3],[162.7,5.1],[175.6,5.0],[188.4,4.8],[201.3,4.5],[214.1,4.2],[227,3.75],[236.7,3.5],[246.3,3.5],[259.2,3.6],[272,3.9],[284.9,4.2],[297.7,4.5],[310.6,4.7],[323.5,4.9],[336.3,5.1],[349.2,5.3],[362.1,5.4],[374.9,5.5],[387.8,5.3],[397.4,4.8],[407.1,4.5],[416.7,4.4],[426.4,4.5],[432.8,4.8],[442.4,5.0],[452.1,5.0],[471.4,5.2],[484.2,5.3],[497.1,5.5],[510,5.4],[522.8,5.3],[535.7,5.4],[548.6,5.5],[561.4,5.1],[574.3,5.0],[587.1,4.9],[600,5.0],[612.9,5.1],[625.7,5.2],[638.6,5.3],[651.4,5.3],[664.3,5.3],[677.2,5.1],[690,5.3],[699.7,5.4]];

// ---------- 3 m depth ----------
const meas3 = [[-133,6.1],[-130,6.5],[-126.5,6.4],[-123.5,5.7],[-120.5,4.8],[-118.5,3.5],[-115,2.7],[-112.5,3.1],[-108.5,3.5],[-104,4.2],[-101,4.6],[-97.5,4.0],[-94.5,3.1],[-91.5,2.5],[-88,1.8],[-85,1.4],[-80.5,1.0],[-75,1.0],[-72,0.75],[-67.5,0.3],[-63.5,-0.3],[-60.5,-1.0],[-57,0.1],[-52.5,0.5],[-49.5,0.1],[-44.5,0.75],[-40,0.5],[-35.5,-0.3],[-32,-1.6],[-27,-1.8],[-20.5,-1.7],[-16,-2.0],[-11,-2.5],[-4.5,-2.9],[2,-3.4],[8.5,-3.6],[15,-3.6],[21,-3.5],[27.5,-3.2],[34,-2.9],[40.5,-2.7],[47,-2.3],[53.5,-1.8],[60,-1.4],[66,-0.9],[72.5,-0.1],[76,0.5],[79,1.2],[82.5,1.7],[88.5,2.0],[95,2.4],[101.5,2.7],[108,2.9],[114.5,3.0],[121,3.1],[127.5,2.85],[134,2.6],[140,2.3],[146.5,2.0],[153,1.9],[159.5,2.4],[166,2.6],[172.5,2.6],[179,2.5],[185,2.3],[191.5,2.1],[198,1.8],[204.5,1.5],[211,1.2],[215.5,1.2],[220.5,1.8],[227,3.5],[233.5,4.5],[238.5,4.0],[243,4.3],[249.5,5.0],[256,5.5],[260.5,5.6],[265.5,4.8],[272,4.2],[278.5,4.8],[285,4.0],[291.5,3.8],[297.5,3.1],[304,2.9],[310.5,2.0],[317,2.5],[323.5,2.5],[330,1.8],[336.5,1.9],[343,1.9],[349,1.7],[355.5,1.6],[362,1.3],[368.5,0.3],[375,-1.0],[381.5,-1.8],[388,-2.3],[394,-2.7],[400.5,-3.4],[406,-4.0],[410.5,-4.2],[413.5,-3.3],[420,-2.9],[426.5,-2.3],[433,-1.7],[439,-1.2],[445.5,-0.5],[452,0.1],[458.5,0.9],[465,1.2],[471.5,1.4],[478,1.7],[484,2.0],[490.5,2.5],[497,2.8],[503.5,3.2],[510,3.1],[516.5,2.9],[523,2.7],[529.5,2.5],[535.5,3.3],[542,4.2],[548.5,4.8],[556.5,5.5],[561.5,5.0],[568,4.6],[574.5,4.2],[577.5,4.9],[584,5.3],[590.5,5.7],[597,6.3],[603,7.2],[609.5,7.2],[616,7.0],[622.5,7.4],[629,7.2],[635.5,6.3],[642,5.0],[648,3.5],[654.5,2.3],[661,1.4],[667.5,0.5],[674,0.1],[680.5,0.5],[687,0.4],[693,0.1],[699.5,-0.2],[706,-0.3],[712.5,-0.4],[719,-0.5],[725.5,-0.6],[732,-0.4],[738.5,-1.0],[744.5,-1.3],[751,-1.6],[757.5,-1.7],[764,-1.3],[770.5,-1.5],[775,-1.7]];
const noSnow3 = [[-134.4,7.3],[-120.3,7.2],[-94.5,7.2],[-62.4,7.4],[-30.2,7.6],[1.9,7.8],[34.1,8.0],[59.8,8.15],[79.1,8.15],[98.4,8.1],[111.3,8.0],[137,8.0],[162.7,8.0],[188.4,7.95],[214.1,7.7],[239.9,7.45],[265.6,7.3],[291.3,7.4],[317,7.6],[342.8,7.8],[368.5,7.95],[394.2,8.25],[419.9,8.4],[445.7,8.35],[471.4,8.4],[497.1,8.5],[522.8,8.6],[548.6,8.6],[574.3,8.65],[600,8.6],[625.7,8.6],[651.4,8.6],[677.2,8.65],[702.9,8.65],[731.8,8.7]];
const snow3 = [[-134.4,7.3],[-120.3,7.2],[-94.5,7.2],[-62.4,7.4],[-30.2,7.6],[1.9,7.9],[21.2,7.9],[40.5,7.8],[59.8,7.8],[79.1,8.0],[98.4,8.2],[124.1,8.45],[149.8,8.5],[175.6,8.55],[201.3,8.5],[227,8.2],[252.7,7.9],[278.5,7.75],[304.2,7.8],[329.9,8.05],[355.6,8.25],[381.4,8.45],[407.1,8.5],[432.8,8.4],[445.7,8.3],[471.4,8.4],[497.1,8.5],[522.8,8.6],[548.6,8.7],[574.3,8.7],[600,8.6],[625.7,8.6],[651.4,8.6],[677.2,8.65],[699.7,8.65]];

// ---------- annotations (2 m panel, data coordinates) ----------
const noteTexts = ['積雪深\n減少期間','積雪深\n増大期間'];
const notePoints = [[202,16.4],[104,12.67]];
const leaderLines = [[[49,16.5],[184,17.75]],[[300,17.75],[435,17.55]],[[-8.5,12.4],[86.5,13.25]],[[220,13.1],[382,12.5]]];

// ================= chart =================
const FONT = '"Liberation Sans", Arial, Helvetica, sans-serif';
const CJK = '"Noto Sans CJK JP", "Noto Sans CJK SC", sans-serif';
const X_MIN = -136, X_MAX = 781;
const BLUE_BAND = '#dce6f1', ORANGE_BAND = '#fbd5b5';
const PWP = 'PWP (kN/m{sup|2})';
const layout = [
  {top:26, height:315, min:0, max:120, interval:20, name:'Precipitation (mm)', gap:64, zero:false},
  {top:368, height:310, min:-10, max:10, interval:5, name:PWP, gap:53, zero:true},
  {top:709, height:311, min:-5, max:15, interval:5, name:PWP, gap:53, zero:true},
  {top:1054, height:311, min:0, max:20, interval:5, name:PWP, gap:53, zero:false},
  {top:1405, height:311, min:-5, max:15, interval:5, name:PWP, gap:53, zero:true}
];

const grids = layout.map(p => ({left:105, width:1100, top:p.top, height:p.height, show:true, borderColor:'#000', borderWidth:2, backgroundColor:'transparent', z:1}));
grids.push({left:105, width:1100, top:368, height:1348, show:false});

const noAxisBits = {axisLine:{show:false}, axisTick:{show:false}, splitLine:{show:false}};
const xAxes = [];
for (let i = 0; i < 6; i++) {
  const ax = Object.assign({type:'value', gridIndex:i, min:X_MIN, max:X_MAX}, noAxisBits);
  if (i === 4) {
    ax.axisLabel = {show:true, customValues:monthLabelDays, formatter:v => { const k = monthLabelDays.indexOf(v); return k >= 0 ? monthLabels[k] : ''; }, fontSize:27, color:'#000', fontFamily:FONT, margin:15};
  } else if (i === 5) {
    ax.axisLabel = {show:true, customValues:yearLabelDays, formatter:v => { const k = yearLabelDays.indexOf(v); return k >= 0 ? yearLabels[k] : ''; }, fontSize:27, color:'#000', fontFamily:FONT, margin:60};
  } else {
    ax.axisLabel = {show:false};
  }
  xAxes.push(ax);
}

const yAxes = [];
layout.forEach((p, i) => {
  const common = {type:'value', gridIndex:i, min:p.min, max:p.max, interval:p.interval, z:3,
    axisLine:{show:false}, splitLine:{show:false},
    axisTick:{show:true, inside:true, length:12, lineStyle:{color:'#000', width:2}}};
  yAxes.push(Object.assign({}, common, {position:'left',
    axisLabel:{fontSize:25, color:'#000', fontFamily:FONT, margin:12},
    name:p.name, nameLocation:'middle', nameGap:p.gap, nameRotate:90,
    nameTextStyle:{fontSize:26, color:'#000', fontFamily:FONT,
      rich:{sup:{fontSize:16, color:'#000', fontFamily:FONT, verticalAlign:'top', padding:[0,0,0,1]}}}}));
  yAxes.push(Object.assign({}, common, {position:'right', axisLabel:{show:false}}));
});
yAxes.push({type:'value', gridIndex:5, min:0, max:1, show:false});

const series = [];
// shaded periods across panels 2-5
series.push({type:'line', xAxisIndex:5, yAxisIndex:10, data:[[X_MIN - 50, 0.5]], symbol:'none', lineStyle:{opacity:0}, silent:true, z:0,
  markArea:{silent:true, animation:false, data:[
    ...blueBands.map(b => [{xAxis:b[0], itemStyle:{color:BLUE_BAND}}, {xAxis:b[1]}]),
    ...orangeBands.map(b => [{xAxis:b[0], itemStyle:{color:ORANGE_BAND}}, {xAxis:b[1]}])
  ]}});
// month grid lines
layout.forEach((p, i) => {
  const data = monthStarts.map(d => yearStarts.indexOf(d) >= 0
    ? {xAxis:d, lineStyle:{color:'#000', width:1, type:'solid'}}
    : {xAxis:d, lineStyle:{color:'#b8b8b8', width:1, type:[4,3]}});
  if (p.zero) data.push({yAxis:0, lineStyle:{color:'#000', width:2.2, type:'solid'}});
  series.push({type:'line', xAxisIndex:i, yAxisIndex:2*i, data:[[X_MIN - 50, p.min]], symbol:'none', lineStyle:{opacity:0}, silent:true, z:2,
    markLine:{silent:true, symbol:['none','none'], label:{show:false}, animation:false, data}});
});
// precipitation
series.push({name:'Daily', type:'bar', xAxisIndex:0, yAxisIndex:0, barWidth:2.4, z:3,
  itemStyle:{color:'#000099'}, data:precipDays.map((d, k) => [d, precipDaily[k]])});
series.push({name:'Hourly', type:'bar', xAxisIndex:0, yAxisIndex:0, barWidth:2.4, barGap:'-100%', z:4,
  itemStyle:{color:'#00ffff'}, data:precipDays.map((d, k) => [d, precipHourly[k]])});
// PWP panels
const pwp = [[meas05, noSnow05, snow05], [meas1, noSnow1, snow1], [meas2, noSnow2, snow2], [meas3, noSnow3, snow3]];
pwp.forEach((set, j) => {
  const i = j + 1;
  const heavy = i >= 3;
  series.push({name:'Measurement', type:'line', xAxisIndex:i, yAxisIndex:2*i, data:set[0], symbol:'circle', symbolSize:6, showSymbol:true, z:3,
    itemStyle:{color:'#bdbdbd', borderColor:'#333', borderWidth:1}, lineStyle:{color: heavy ? '#222' : '#000', width: heavy ? 2 : 1}});
  series.push({name:'No consideration of snow cover', type:'line', xAxisIndex:i, yAxisIndex:2*i, data:set[1], symbol:'none', z:4,
    itemStyle:{color:'#ff0000'}, lineStyle:{color:'#ff0000', width:2}});
  series.push({name:'Consideration of snow cover', type:'line', xAxisIndex:i, yAxisIndex:2*i, data:set[2], symbol:'none', z:5,
    itemStyle:{color:'#0000ff'}, lineStyle:{color:'#0000ff', width:2.5, type:[6,5]}});
});
// annotation leader lines and text in the 2 m panel
series.push({type:'line', xAxisIndex:3, yAxisIndex:6, data:[[X_MIN - 50, 0]], symbol:'none', lineStyle:{opacity:0}, silent:true, z:6,
  markLine:{silent:true, symbol:['none','none'], label:{show:false}, animation:false, lineStyle:{color:'#000', width:1.6, type:'solid'},
    data:leaderLines.map(l => [{coord:l[0]}, {coord:l[1]}])}});
series.push({type:'scatter', xAxisIndex:3, yAxisIndex:6, silent:true, z:6, symbolSize:1, itemStyle:{color:'transparent'},
  data:notePoints.map((pt, k) => ({value:pt, name:noteTexts[k]})),
  label:{show:true, position:'right', distance:0, formatter:p => p.name, fontSize:25, lineHeight:34, color:'#000', opacity:1, fontFamily:CJK, align:'left'}});

const depthTops = [375, 718, 1063, 1414];
const depthRights = [14, 16, 18, 18];
const titles = depthLabels.map((t, k) => ({text:t, right:depthRights[k], top:depthTops[k], padding:[5,6,5,6],
  borderColor:'#000', borderWidth:1.5, backgroundColor:'#fff', shadowColor:'rgba(0,0,0,0.6)', shadowOffsetX:2, shadowOffsetY:2, shadowBlur:0,
  textStyle:{fontSize:20, fontWeight:'normal', color:'#000', fontFamily:FONT}, z:10}));

const hideDot = {color:'rgba(0,0,0,0)', borderColor:'rgba(0,0,0,0)', borderWidth:0};
const chart = echarts.init(document.getElementById('c'), null, {renderer:'canvas'});
chart.setOption({
  animation:false,
  backgroundColor:'#fff',
  title:titles,
  grid:grids,
  xAxis:xAxes,
  yAxis:yAxes,
  legend:[
    {data:['Daily','Hourly'], orient:'vertical', left:168, top:43, icon:'rect', itemWidth:68, itemHeight:3, itemGap:8,
     padding:[12,16,12,18], borderColor:'#000', borderWidth:2, backgroundColor:'#fff', selectedMode:false, z:10,
     textStyle:{fontSize:25, color:'#000', fontFamily:FONT}},
    {data:[{name:'Measurement'},
           {name:'No consideration of snow cover', itemStyle:hideDot},
           {name:'Consideration of snow cover', itemStyle:hideDot}],
     orient:'vertical', left:762, top:575,
     itemWidth:53, itemHeight:8, itemGap:5.5, padding:[11,38,11,42], borderColor:'#000', borderWidth:2, backgroundColor:'#fff',
     selectedMode:false, z:10, textStyle:{fontSize:20, color:'#000', fontFamily:FONT}}
  ],
  series:series
});
</script></body></html>
